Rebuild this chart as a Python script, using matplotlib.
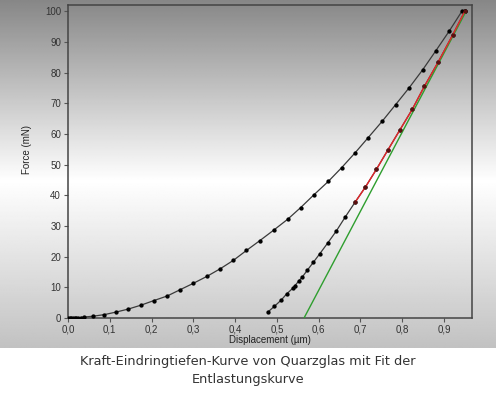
import numpy as np
import matplotlib.pyplot as plt

# loading curve (displacement in um, force in mN)
load_x = [0.0, 0.004, 0.008, 0.012, 0.016, 0.02, 0.025, 0.03, 0.038, 0.061, 0.087, 0.114,
          0.144, 0.175, 0.206, 0.238, 0.268, 0.300, 0.333, 0.365, 0.396, 0.427, 0.459,
          0.493, 0.526, 0.557, 0.589, 0.623, 0.655, 0.687, 0.718, 0.752, 0.784, 0.817,
          0.849, 0.880, 0.912, 0.943, 0.950]
load_y = [0.0, 0.0, 0.0, 0.05, 0.05, 0.1, 0.1, 0.15, 0.3, 0.6, 1.1, 1.9,
          2.9, 4.2, 5.7, 7.2, 9.2, 11.3, 13.6, 16.1, 18.8, 22.0, 25.2,
          28.7, 32.2, 36.0, 40.2, 44.5, 49.0, 53.8, 58.7, 64.1, 69.5, 75.1,
          80.9, 87.0, 93.4, 100.0, 100.0]

# unloading curve
unload_x = [0.950, 0.921, 0.886, 0.853, 0.824, 0.794, 0.765, 0.738, 0.712, 0.687,
            0.664, 0.642, 0.622, 0.603, 0.587, 0.573, 0.561, 0.552, 0.543, 0.538,
            0.523, 0.510, 0.494, 0.478]
unload_y = [100.0, 92.3, 83.4, 75.5, 68.0, 61.2, 54.6, 48.4, 42.7, 37.7,
            33.0, 28.3, 24.5, 21.0, 18.1, 15.6, 13.4, 12.0, 10.5, 9.7,
            7.8, 5.8, 3.8, 1.9]

# fit of the unloading curve (upper part)
fit_x = [0.950, 0.921, 0.886, 0.853, 0.824, 0.794, 0.765, 0.738, 0.712, 0.687]
fit_y = [100.0, 92.3, 83.4, 75.5, 68.0, 61.2, 54.6, 48.4, 42.7, 37.7]

# tangent at max load
tangent_x = [0.565, 0.953]
tangent_y = [0.0, 100.0]

x_ticks = [0.0, 0.1, 0.2, 0.3, 0.4, 0.5, 0.6, 0.7, 0.8, 0.9]
y_ticks = [0, 10, 20, 30, 40, 50, 60, 70, 80, 90, 100]

# background gradient stops (position from top, gray level)
grad_pos = [0.0, 0.52, 1.0]
grad_val = [0.53, 1.0, 0.76]

W, H = 496, 398
fig = plt.figure(figsize=(W / 100, H / 100), dpi=100)
fig.patch.set_facecolor("white")

# gradient behind the chart
bg = fig.add_axes([0, 1 - 348 / H, 1, 348 / H], zorder=0)
t = np.linspace(0, 1, 300)
col = np.interp(t, grad_pos, grad_val)
bg.imshow(np.repeat(col[:, None], 2, axis=1), cmap="gray", vmin=0, vmax=1,
          aspect="auto", extent=[0, 1, 1, 0], interpolation="bilinear")
bg.axis("off")

ax = fig.add_axes([68 / W, 1 - 318 / H, (472 - 68) / W, (318 - 5) / H], zorder=1)
ax.patch.set_alpha(0)

ax.plot(load_x, load_y, color="#3a3a3a", lw=0.9, marker="o", ms=2.1,
        mfc="black", mec="black", zorder=3)
ax.plot(unload_x, unload_y, color="#3a3a3a", lw=0.9, marker="o", ms=2.1,
        mfc="black", mec="black", zorder=3)
ax.plot(tangent_x, tangent_y, color="#2e9e2e", lw=1.0, zorder=4)
ax.plot(fit_x, fit_y, color="#e5262a", lw=1.0, zorder=5)
ax.plot(fit_x, fit_y, ls="none", marker="o", ms=2.0, mfc="#5a1010", mec="#5a1010", zorder=6)

ax.set_xlim(0, 0.967)
ax.set_ylim(0, 102)
ax.set_xticks(x_ticks)
ax.set_yticks(y_ticks)
ax.set_xticklabels([f"{v:.1f}".replace(".", ",") for v in x_ticks])
ax.set_yticklabels([str(v) for v in y_ticks])
ax.tick_params(direction="out", length=3, width=0.8, color="#555555",
               labelsize=7, labelcolor="#333333", pad=2)
for lab in ax.get_xticklabels() + ax.get_yticklabels():
    lab.set_family("Liberation Sans")
for s in ax.spines.values():
    s.set_color("#444444")
    s.set_linewidth(1.1)

fig.text(27 / W, 1 - 150 / H, "Force (mN)", rotation=90, ha="center", va="center",
         fontsize=7, color="#222222", family="Liberation Sans")
fig.text(270 / W, 1 - 340 / H, "Displacement (\u00b5m)", ha="center", va="center",
         fontsize=7, color="#222222", family="Liberation Sans")

fig.text(248 / W, 1 - 362 / H, "Kraft-Eindringtiefen-Kurve von Quarzglas mit Fit der",
         ha="center", va="center", fontsize=9.3, color="#333333", family="DejaVu Sans")
fig.text(248 / W, 1 - 380 / H, "Entlastungskurve",
         ha="center", va="center", fontsize=9.3, color="#333333", family="DejaVu Sans")

fig.savefig("out.png", dpi=100)
